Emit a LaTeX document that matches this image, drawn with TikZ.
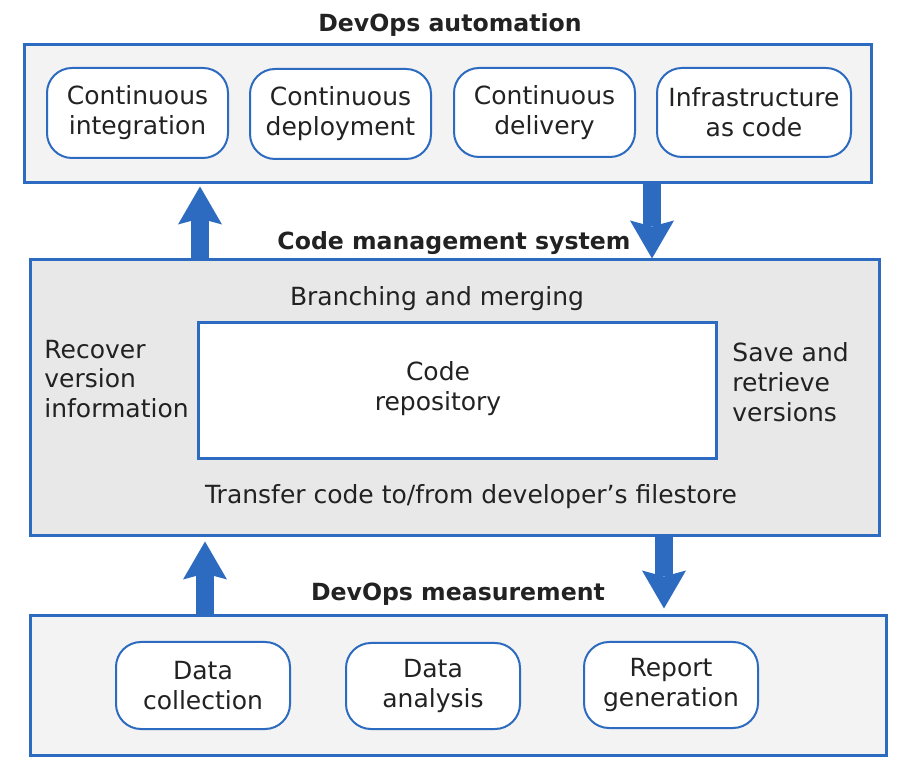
\documentclass[tikz,border=0pt]{standalone}
\usepackage{fontspec}
\setmainfont{DejaVu Sans}
\usetikzlibrary{arrows.meta}
\definecolor{dblue}{RGB}{45,107,192}
\definecolor{lgray}{RGB}{243,243,243}
\definecolor{mgray}{RGB}{232,232,232}
\definecolor{txt}{RGB}{34,34,34}
\tikzset{
  outerbox/.style={draw=dblue, line width=1.5pt, inner sep=0pt},
  pill/.style={draw=dblue, line width=1pt, fill=white, rounded corners=12.5pt, inner sep=0pt, align=center, text=txt, font=\fontsize{12.5}{14.9}\selectfont},
  plain/.style={text=txt, font=\fontsize{12.5}{14.9}\selectfont, inner sep=0pt},
  title/.style={text=txt, font=\fontsize{11.8}{14}\selectfont\bfseries, inner sep=0pt},
  bigarrow/.style={draw=dblue, line width=9pt, -{Stealth[length=19pt,width=22pt,inset=3pt,line width=0pt]}},
}
\begin{document}
\begin{tikzpicture}[x=0.5pt,y=-0.5pt]
\useasboundingbox (0,0) rectangle (905,774);
% top group
\node[outerbox, fill=lgray, minimum width=423.5pt, minimum height=69pt] (top) at (447.5,114) {};
\node[title] (toptitle) at (450,25) {DevOps automation};
\node[pill, minimum width=90.5pt, minimum height=45pt] (ci) at (137.5,113) {Continuous\\integration};
\node[pill, minimum width=90.5pt, minimum height=45pt] (cd) at (340.5,114) {Continuous\\deployment};
\node[pill, minimum width=90.5pt, minimum height=44.5pt] (cdl) at (544.5,112.5) {Continuous\\delivery};
\node[pill, minimum width=97pt, minimum height=44.5pt] (iac) at (754,112.5) {Infrastructure\\as code};
% middle group
\node[outerbox, fill=mgray, minimum width=424.5pt, minimum height=138pt] (mid) at (454.5,398) {};
\node[title] (midtitle) at (454,243) {Code management system};
\node[plain] (branch) at (437,299) {Branching and merging};
\node[outerbox, fill=white, minimum width=259pt, minimum height=68pt] (repo) at (457,391) {};
\node[plain, align=center] (repolabel) at (438,389) {Code\\repository};
\node[plain, align=left, anchor=west] (recover) at (44,379) {Recover\\version\\information};
\node[plain, align=left, anchor=west] (save) at (732,382) {Save and\\retrieve\\versions};
\node[plain] (transfer) at (471,497) {Transfer code to/from developer’s filestore};
% bottom group
\node[outerbox, fill=lgray, minimum width=428pt, minimum height=69.5pt] (bot) at (458,685.5) {};
\node[title] (bottitle) at (458,594) {DevOps measurement};
\node[pill, minimum width=87pt, minimum height=43.5pt] (dc) at (203,685.5) {Data\\collection};
\node[pill, minimum width=87pt, minimum height=43pt] (da) at (433,686) {Data\\analysis};
\node[pill, minimum width=87pt, minimum height=43pt] (rg) at (671,685) {Report\\generation};
% arrows
\coordinate (xa) at (200,0);
\coordinate (xb) at (652,0);
\coordinate (xc) at (205,0);
\coordinate (xd) at (664,0);
\draw[bigarrow, shorten >=1pt] (mid.north -| xa) -- (top.south -| xa);
\draw[bigarrow] (top.south -| xb) -- (mid.north -| xb);
\draw[bigarrow, shorten >=2pt] (bot.north -| xc) -- (mid.south -| xc);
\draw[bigarrow, shorten >=3pt] (mid.south -| xd) -- (bot.north -| xd);
\end{tikzpicture}
\end{document}
